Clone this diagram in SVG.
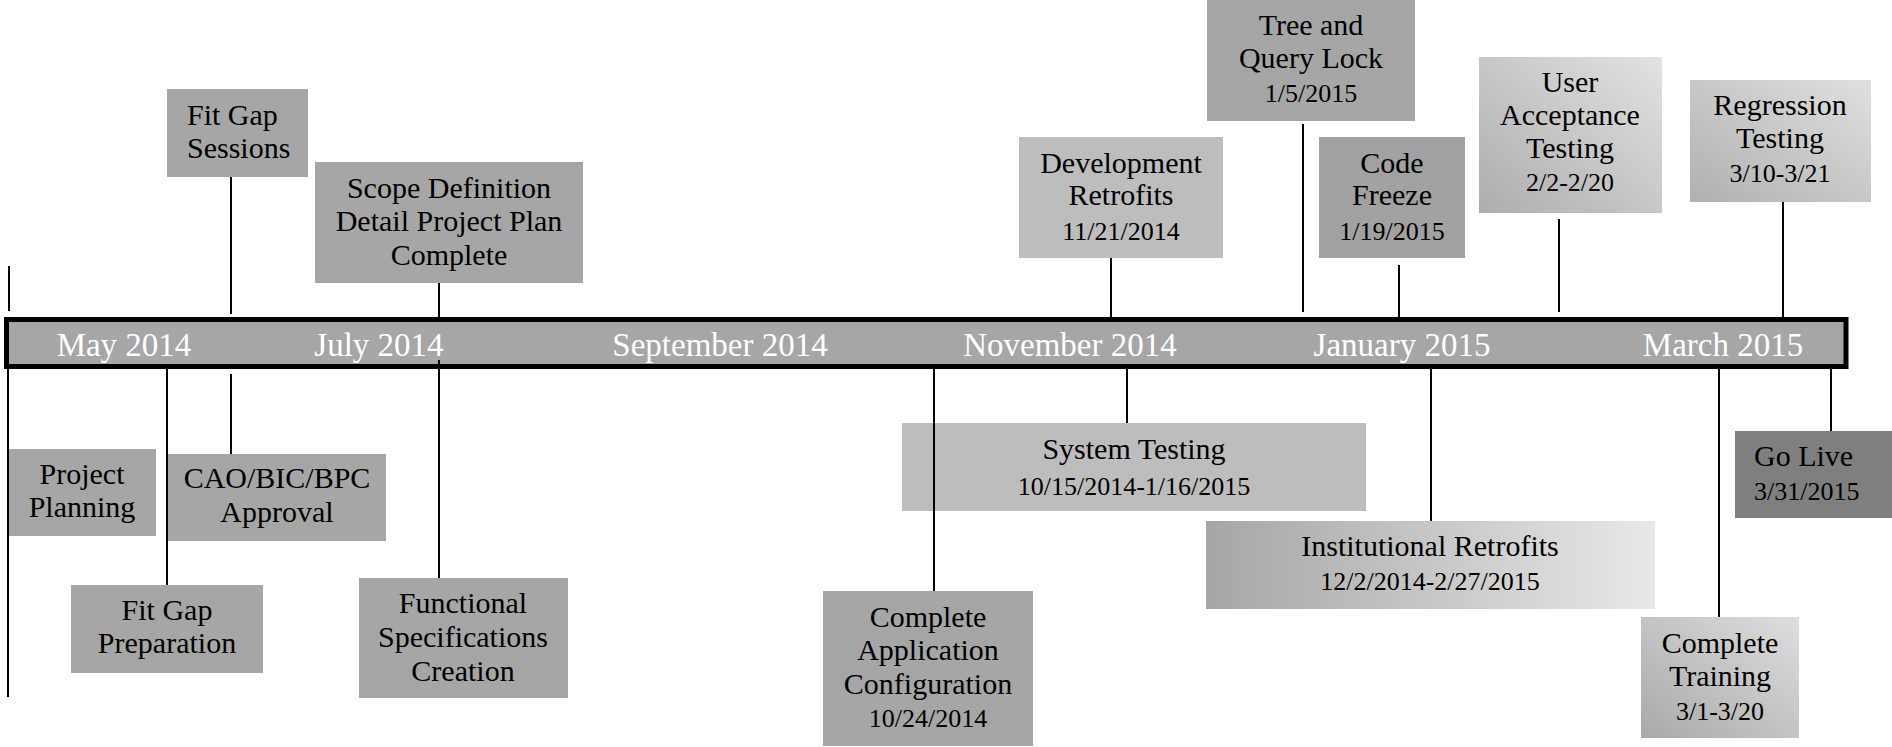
<svg xmlns="http://www.w3.org/2000/svg" width="1892" height="747" viewBox="0 0 1892 747">
<defs>
<style>
.box{fill:#a6a6a6}
.light{fill:#bdbdbd}
.dark{fill:#7f7f7f}
.t{font-family:"Liberation Serif","DejaVu Serif",serif;font-size:30px;fill:#000;text-anchor:middle}
.d{font-size:26px}
.l{text-anchor:start}
.m{font-family:"Liberation Serif","DejaVu Serif",serif;font-size:33px;fill:#fff;text-anchor:middle}
.c{stroke:#000;stroke-width:2;fill:none}
</style>
<linearGradient id="gUat" x1="0" y1="1" x2="1" y2="0">
<stop offset="0" stop-color="#adadad"/><stop offset="1" stop-color="#e2e2e2"/>
</linearGradient>
<linearGradient id="gReg" x1="0" y1="1" x2="1" y2="0">
<stop offset="0" stop-color="#b0b0b0"/><stop offset="1" stop-color="#e0e0e0"/>
</linearGradient>
<linearGradient id="gInst" x1="0" y1="0" x2="1" y2="0">
<stop offset="0" stop-color="#a6a6a6"/><stop offset="1" stop-color="#e8e8e8"/>
</linearGradient>
<linearGradient id="gTrain" x1="0" y1="1" x2="1" y2="0">
<stop offset="0" stop-color="#a9a9a9"/><stop offset="1" stop-color="#dedede"/>
</linearGradient>
</defs>
<rect width="1892" height="747" fill="#fff"/>

<g id="timeline">
<rect x="6.5" y="319.5" width="1839.5" height="47" fill="#a6a6a6" stroke="#000" stroke-width="5"/>
<text class="m" x="124" y="356">May 2014</text>
<text class="m" x="379" y="356">July 2014</text>
<text class="m" x="720" y="356">September 2014</text>
<text class="m" x="1070" y="356">November 2014</text>
<text class="m" x="1402" y="356">January 2015</text>
<text class="m" x="1723" y="356">March 2015</text>
</g>

<g id="fit-gap-sessions">
<rect class="box" x="167" y="89" width="141" height="88"/>
<text class="t l" x="187" y="125">Fit Gap</text>
<text class="t l" x="187" y="158">Sessions</text>
</g>

<g id="scope-definition">
<rect class="box" x="315" y="162" width="268" height="121"/>
<text class="t" x="449" y="198">Scope Definition</text>
<text class="t" x="449" y="231">Detail Project Plan</text>
<text class="t" x="449" y="265">Complete</text>
</g>

<g id="project-planning">
<rect class="box" x="8" y="449" width="148" height="87"/>
<text class="t" x="82" y="484">Project</text>
<text class="t" x="82" y="517">Planning</text>
</g>

<g id="cao-approval">
<rect class="box" x="168" y="454" width="218" height="87"/>
<text class="t" x="277" y="488">CAO/BIC/BPC</text>
<text class="t" x="277" y="522">Approval</text>
</g>

<g id="fit-gap-preparation">
<rect class="box" x="71" y="585" width="192" height="88"/>
<text class="t" x="167" y="620">Fit Gap</text>
<text class="t" x="167" y="653">Preparation</text>
</g>

<g id="functional-specifications">
<rect class="box" x="359" y="578" width="209" height="120"/>
<text class="t" x="463" y="613">Functional</text>
<text class="t" x="463" y="647">Specifications</text>
<text class="t" x="463" y="681">Creation</text>
</g>

<g id="development-retrofits">
<rect class="light" x="1019" y="137" width="204" height="121"/>
<text class="t" x="1121" y="173">Development</text>
<text class="t" x="1121" y="205">Retrofits</text>
<text class="t d" x="1121" y="240">11/21/2014</text>
</g>

<g id="tree-query-lock">
<rect class="box" x="1207" y="0" width="208" height="121" fill="#a4a4a4"/>
<text class="t" x="1311" y="35">Tree and</text>
<text class="t" x="1311" y="68">Query Lock</text>
<text class="t d" x="1311" y="102">1/5/2015</text>
</g>

<g id="code-freeze">
<rect class="box" x="1319" y="137" width="146" height="121" style="fill:#a2a2a2"/>
<text class="t" x="1392" y="173">Code</text>
<text class="t" x="1392" y="205">Freeze</text>
<text class="t d" x="1392" y="240">1/19/2015</text>
</g>

<g id="user-acceptance-testing">
<rect x="1479" y="57" width="183" height="156" fill="url(#gUat)"/>
<text class="t" x="1570" y="92">User</text>
<text class="t" x="1570" y="125">Acceptance</text>
<text class="t" x="1570" y="158">Testing</text>
<text class="t d" x="1570" y="191">2/2-2/20</text>
</g>

<g id="regression-testing">
<rect x="1690" y="80" width="181" height="122" fill="url(#gReg)"/>
<text class="t" x="1780" y="115">Regression</text>
<text class="t" x="1780" y="148">Testing</text>
<text class="t d" x="1780" y="182">3/10-3/21</text>
</g>

<g id="system-testing">
<rect class="light" x="902" y="423" width="464" height="88"/>
<text class="t" x="1134" y="459">System Testing</text>
<text class="t d" x="1134" y="495">10/15/2014-1/16/2015</text>
</g>

<g id="complete-application-configuration">
<rect class="box" x="823" y="591" width="210" height="155"/>
<text class="t" x="928" y="627">Complete</text>
<text class="t" x="928" y="660">Application</text>
<text class="t" x="928" y="694">Configuration</text>
<text class="t d" x="928" y="727">10/24/2014</text>
</g>

<g id="institutional-retrofits">
<rect x="1206" y="521" width="449" height="88" fill="url(#gInst)"/>
<text class="t" x="1430" y="556">Institutional Retrofits</text>
<text class="t d" x="1430" y="590">12/2/2014-2/27/2015</text>
</g>

<g id="go-live">
<rect class="dark" x="1735" y="431" width="157" height="87"/>
<text class="t l" x="1754" y="466">Go Live</text>
<text class="t d l" x="1754" y="500">3/31/2015</text>
</g>

<g id="complete-training">
<rect x="1641" y="617" width="158" height="121" fill="url(#gTrain)"/>
<text class="t" x="1720" y="653">Complete</text>
<text class="t" x="1720" y="686">Training</text>
<text class="t d" x="1720" y="720">3/1-3/20</text>
</g>

<g id="connectors">
<line class="c" x1="9" y1="266" x2="9" y2="311"/>
<line class="c" x1="8" y1="368" x2="8" y2="697"/>
<line class="c" x1="231" y1="177" x2="231" y2="314"/>
<line class="c" x1="231" y1="374" x2="231" y2="454"/>
<line class="c" x1="439" y1="283" x2="439" y2="317"/>
<line class="c" x1="439" y1="360" x2="439" y2="578"/>
<line class="c" x1="167" y1="368" x2="167" y2="585"/>
<line class="c" x1="1111" y1="258" x2="1111" y2="317"/>
<line class="c" x1="1303" y1="124" x2="1303" y2="312"/>
<line class="c" x1="1399" y1="265" x2="1399" y2="317"/>
<line class="c" x1="1559" y1="219" x2="1559" y2="312"/>
<line class="c" x1="1783" y1="202" x2="1783" y2="317"/>
<line class="c" x1="934" y1="368" x2="934" y2="591"/>
<line class="c" x1="1127" y1="368" x2="1127" y2="423"/>
<line class="c" x1="1431" y1="368" x2="1431" y2="521"/>
<line class="c" x1="1719" y1="368" x2="1719" y2="617"/>
<line class="c" x1="1831" y1="368" x2="1831" y2="431"/>
</g>
</svg>
